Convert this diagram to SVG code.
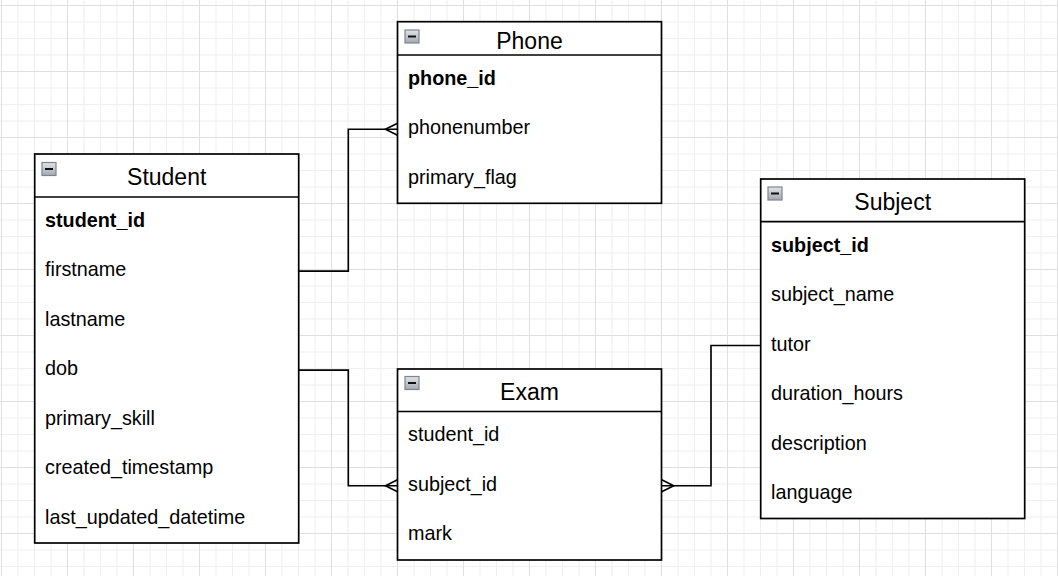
<svg xmlns="http://www.w3.org/2000/svg" width="1058" height="576" viewBox="0 0 1058 576">
  <style>
    .box { fill: #ffffff; stroke: #000000; stroke-width: 1.7; }
    .div { stroke: #000000; stroke-width: 1.7; fill: none; }
    .title { font-family: "Liberation Sans", Arial, sans-serif; font-size: 23px; fill: #000000; text-anchor: middle; }
    .field { font-family: "Liberation Sans", Arial, sans-serif; font-size: 19.8px; fill: #000000; }
    .pk { font-weight: bold; }
    .edge { fill: none; stroke: #000000; stroke-width: 1.65; }
  </style>
  <defs>
    <pattern id="grid" patternUnits="userSpaceOnUse" x="1" y="5" width="66" height="66">
      <rect x="0" y="0" width="66" height="66" fill="#ffffff"/>
      <rect x="16.5" y="0" width="1" height="66" fill="#f0f0f0"/>
      <rect x="33" y="0" width="1" height="66" fill="#f0f0f0"/>
      <rect x="49.5" y="0" width="1" height="66" fill="#f0f0f0"/>
      <rect x="0" y="16.5" width="66" height="1" fill="#f0f0f0"/>
      <rect x="0" y="33" width="66" height="1" fill="#f0f0f0"/>
      <rect x="0" y="49.5" width="66" height="1" fill="#f0f0f0"/>
      <rect x="0" y="0" width="1" height="66" fill="#e0e0e0"/>
      <rect x="0" y="0" width="66" height="1" fill="#e0e0e0"/>
    </pattern>
    <linearGradient id="iconFill" x1="0" y1="0" x2="0" y2="1">
      <stop offset="0" stop-color="#e2e4e8"/>
      <stop offset="1" stop-color="#a3a8b0"/>
    </linearGradient>
    <g id="collapse">
      <rect x="0.5" y="0.5" width="14" height="13" fill="url(#iconFill)" stroke="#7f858f" stroke-width="1.2"/>
      <line x1="3.5" y1="7" x2="11.5" y2="7" stroke="#111111" stroke-width="2"/>
    </g>
  </defs>

  <rect x="0" y="0" width="1058" height="576" fill="url(#grid)"/>

  <g id="connectors">
    <path class="edge" d="M298.7 271.15 H348.3 V129.25 H397.5"/>
    <path class="edge" d="M397.5 123.25 L385.5 129.25 L397.5 135.25"/>
    <path class="edge" d="M298.7 370.15 H348.3 V485.75 H397.5"/>
    <path class="edge" d="M397.5 479.75 L385.5 485.75 L397.5 491.75"/>
    <path class="edge" d="M661.7 485.75 H711 V345.45 H760.7"/>
    <path class="edge" d="M661.7 479.75 L673.7 485.75 L661.7 491.75"/>
  </g>

  <g id="student">
    <rect class="box" x="34.7" y="154" width="264" height="389"/>
    <line class="div" x1="34.7" y1="197" x2="298.7" y2="197"/>
    <use href="#collapse" x="41.5" y="162"/>
    <text class="title" x="166.7" y="185">Student</text>
    <text class="field pk" x="45" y="226.5">student_id</text>
    <text class="field" x="45" y="276">firstname</text>
    <text class="field" x="45" y="325.5">lastname</text>
    <text class="field" x="45" y="375">dob</text>
    <text class="field" x="45" y="424.5">primary_skill</text>
    <text class="field" x="45" y="474">created_timestamp</text>
    <text class="field" x="45" y="523.5">last_updated_datetime</text>
  </g>

  <g id="phone">
    <rect class="box" x="397.5" y="21.7" width="264" height="181.6"/>
    <line class="div" x1="397.5" y1="55" x2="661.5" y2="55"/>
    <use href="#collapse" x="404.5" y="29.5"/>
    <text class="title" x="529.5" y="49">Phone</text>
    <text class="field pk" x="408" y="84.5">phone_id</text>
    <text class="field" x="408" y="134">phonenumber</text>
    <text class="field" x="408" y="183.5">primary_flag</text>
  </g>

  <g id="subject">
    <rect class="box" x="760.7" y="179" width="264" height="339.5"/>
    <line class="div" x1="760.7" y1="221.7" x2="1024.7" y2="221.7"/>
    <use href="#collapse" x="767.5" y="186.5"/>
    <text class="title" x="892.7" y="210">Subject</text>
    <text class="field pk" x="771" y="251.5">subject_id</text>
    <text class="field" x="771" y="301">subject_name</text>
    <text class="field" x="771" y="350.5">tutor</text>
    <text class="field" x="771" y="400">duration_hours</text>
    <text class="field" x="771" y="449.5">description</text>
    <text class="field" x="771" y="499">language</text>
  </g>

  <g id="exam">
    <rect class="box" x="397.5" y="369" width="264" height="191"/>
    <line class="div" x1="397.5" y1="411.5" x2="661.5" y2="411.5"/>
    <use href="#collapse" x="404.5" y="376"/>
    <text class="title" x="529.5" y="400">Exam</text>
    <text class="field" x="408" y="441">student_id</text>
    <text class="field" x="408" y="490.5">subject_id</text>
    <text class="field" x="408" y="540">mark</text>
  </g>
</svg>
